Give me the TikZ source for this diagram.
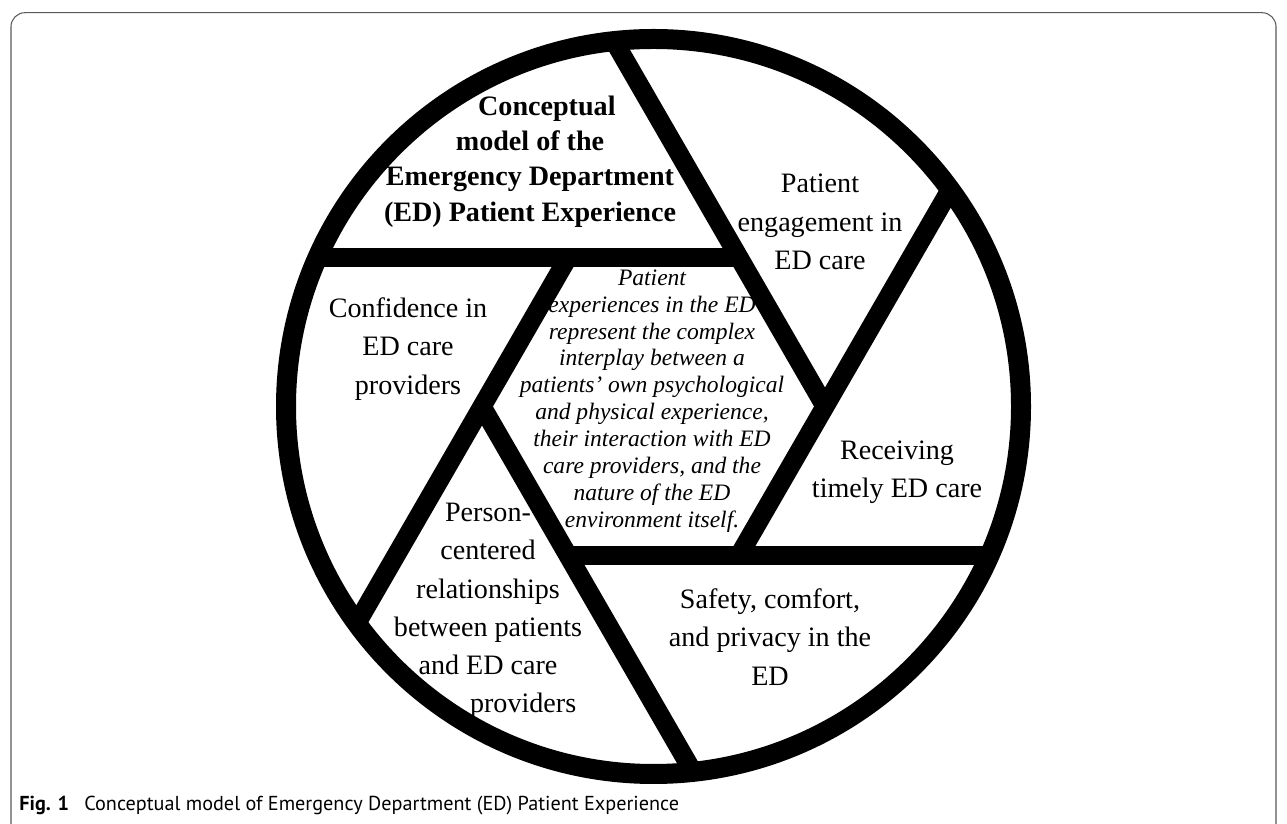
\documentclass[tikz,border=0pt]{standalone}
\usepackage{fontspec}
\setmainfont{Liberation Serif}
\newfontfamily\capfont{PT Sans}
\usetikzlibrary{calc}

\tikzset{
  frame/.style={draw=black!65, line width=0.6pt, rounded corners=0.28cm},
  ring/.style={line width=0.4cm},
  blade/.style={line width=0.38cm},
  part/.style={align=center, inner sep=0pt, font=\fontsize{16}{21.8}\selectfont},
  title/.style={part, font=\bfseries\fontsize{16}{20.2}\selectfont},
  core/.style={align=center, inner sep=0pt, font=\itshape\fontsize{13.4}{15.3}\selectfont}
}

\begin{document}
\begin{tikzpicture}[x=0.02cm, y=0.02cm]
    \useasboundingbox (0,0) rectangle (1287,824);
    \clip (0,0) rectangle (1287,824);
    \draw[frame] (11,-40) rectangle (1276,811.3);

    % shutter: ring, hexagon corners and the six blades
    \coordinate (c) at (653.5,417.5);
    \foreach \k in {0,...,5}
        \coordinate (v\k) at ($(c)+(60*\k:171.5)$);
    \begin{scope}
        \clip (c) circle (367.5);
        \foreach \a/\b in {0/1,1/2,2/3,3/4,4/5,5/0}
            \draw[blade] (v\a) -- ($(v\a)!2.6!(v\b)$);
    \end{scope}
    \draw[ring] (c) circle (367.5);

    \node[title] (title) at (530,662.5) {\hspace*{1.2em}Conceptual\\ model of the\\ Emergency Department\\ (ED) Patient Experience};
    \node[core] (core) at (652,423) {Patient\\ experiences in the ED\\ represent the complex\\ interplay between a\\ patients' own psychological\\ and physical experience,\\ their interaction with ED\\ care providers, and the\\ nature of the ED\\ environment itself.};
    \node[part] (engage) at (820,602) {Patient\\ engagement in\\ ED care};
    \node[part] (confid) at (408,475) {Confidence in\\ ED care\\ providers};
    \node[part] (timely) at (897,352) {Receiving\\ timely ED care};
    \node[part] (person) at (488,213) {Person-\\ centered\\ relationships\\ between patients\\ and ED care\\ \hspace*{2.5em}providers};
    \node[part] (safety) at (770,187) {Safety, comfort,\\ and privacy in the\\ ED};

    \node[anchor=base west, inner sep=0pt, font=\capfont\fontsize{11.5}{13}\selectfont] (caption) at (19,13)
        {\textbf{Fig. 1}\hspace{0.75em}Conceptual model of Emergency Department (ED) Patient Experience};
\end{tikzpicture}
\end{document}
